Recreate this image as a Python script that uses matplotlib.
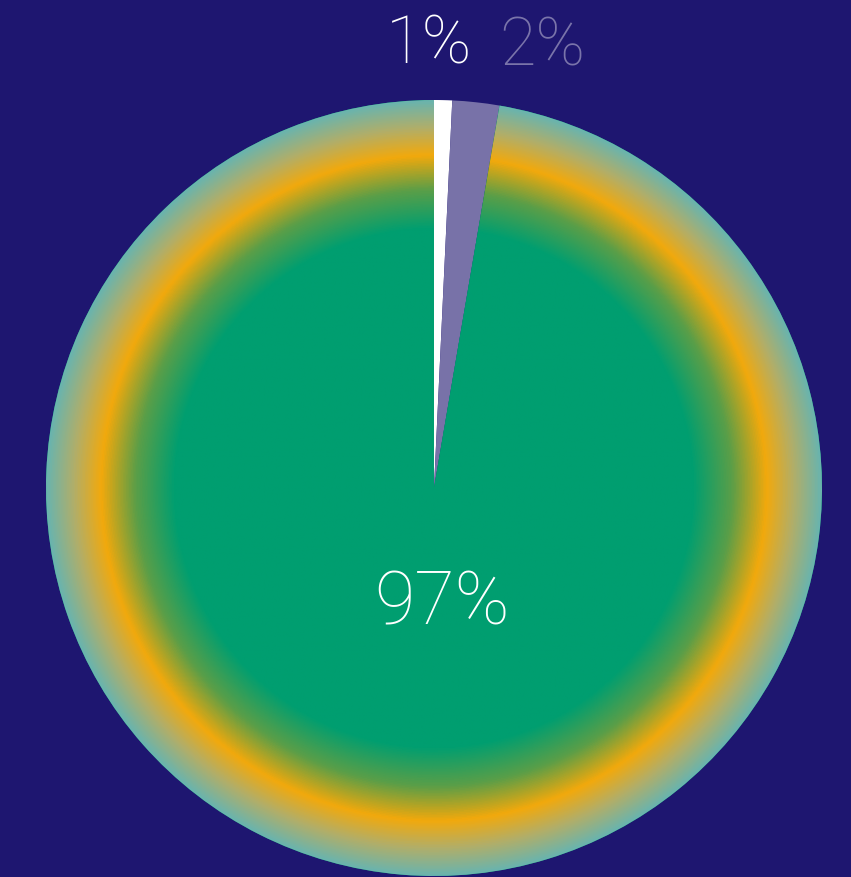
import numpy as np
import matplotlib.pyplot as plt
from matplotlib.colors import LinearSegmentedColormap

# data (slice sizes, labels as printed)
labels = ["1%", "2%", "97%"]
shares = [0.75, 1.95, 97.3]
slice_colors = ["#ffffff", "#7872a8", "#009e70"]
label_colors = ["#ffffff", "#7a74aa", "#ffffff"]

bg = "#1e1670"
W, H = 851, 877
cx, cy, R = 434, H - 488, 388

fig = plt.figure(figsize=(W / 100, H / 100), dpi=100)
fig.patch.set_facecolor(bg)
ax = fig.add_axes([0, 0, 1, 1])
ax.set_facecolor(bg)

wedges, _ = ax.pie(shares, colors=slice_colors, startangle=90, counterclock=False,
                   radius=R, center=(cx, cy), wedgeprops=dict(linewidth=0))

# radial gradient on the big slice
cmap = LinearSegmentedColormap.from_list("ring", [
    (0.0, "#009e70"), (0.67, "#009e70"), (0.77, "#5a9e48"),
    (0.86, "#f2a90c"), (0.93, "#b2ae68"), (1.0, "#6ab4ad")])
yy, xx = np.mgrid[-1:1:800j, -1:1:800j]
rr = np.sqrt(xx ** 2 + yy ** 2)
im = ax.imshow(rr, cmap=cmap, vmin=0, vmax=1, origin="lower",
               extent=(cx - R, cx + R, cy - R, cy + R), interpolation="bilinear", zorder=3)
im.set_clip_path(wedges[2])

ax.set_xlim(0, W)
ax.set_ylim(0, H)
ax.set_aspect("equal")
ax.axis("off")

font = dict(family="Roboto", fontweight="light")
ax.text(429, H - 46, labels[0], color=label_colors[0], fontsize=48, ha="center", va="center", **font)
ax.text(542, H - 48, labels[1], color=label_colors[1], fontsize=48, ha="center", va="center", **font)
ax.text(442, H - 604, labels[2], color=label_colors[2], fontsize=53, ha="center", va="center", zorder=5, **font)

fig.savefig("out.png", dpi=100, facecolor=bg)
